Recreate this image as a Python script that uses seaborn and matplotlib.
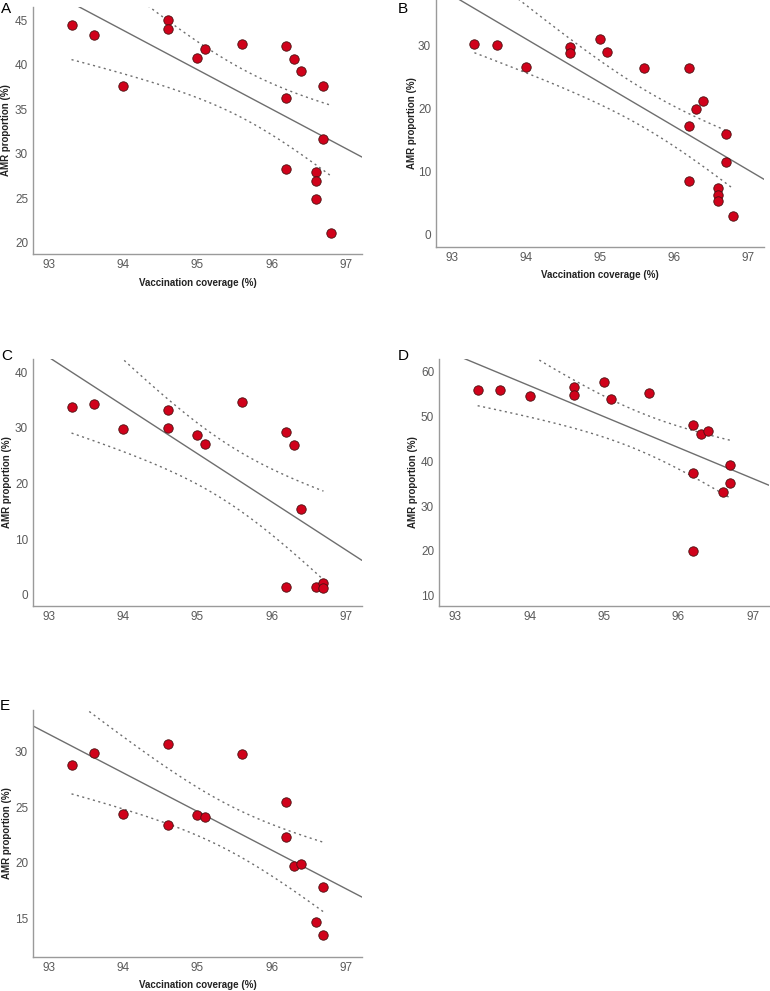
import numpy as np
import pandas as pd
import matplotlib
matplotlib.use("Agg")
import matplotlib.pyplot as plt
import seaborn as sns

# Vaccination coverage (%) and AMR proportion (%) per panel
coverage_a = [93.3, 93.6, 94.0, 94.6, 94.6, 95.0, 95.1, 95.6, 96.2, 96.3,
              96.4, 96.7, 96.2, 96.7, 96.2, 96.6, 96.6, 96.6, 96.8]
amr_a = [44.4, 43.3, 37.6, 45.0, 44.0, 40.7, 41.7, 42.3, 42.1, 40.6,
         39.3, 37.6, 36.2, 31.6, 28.3, 27.9, 26.9, 24.9, 21.1]

coverage_b = [93.3, 93.6, 94.0, 94.6, 94.6, 95.0, 95.1, 95.6, 96.2, 96.3,
              96.4, 96.7, 96.2, 96.7, 96.2, 96.6, 96.6, 96.6, 96.8]
amr_b = [30.3, 30.0, 26.6, 29.7, 28.8, 31.0, 28.9, 26.4, 26.5, 20.0,
         21.2, 16.0, 17.2, 11.6, 8.6, 7.5, 6.3, 5.4, 3.0]

coverage_c = [93.3, 93.6, 94.0, 94.6, 94.6, 95.0, 95.1, 95.6, 96.2, 96.3,
              96.4, 96.2, 96.6, 96.7, 96.7]
amr_c = [33.8, 34.2, 29.8, 33.2, 29.9, 28.7, 27.0, 34.6, 29.3, 26.9,
         15.4, 1.5, 1.5, 2.2, 1.3]

coverage_d = [93.3, 93.6, 94.0, 94.6, 94.6, 95.0, 95.1, 95.6, 96.2, 96.3,
              96.4, 96.7, 96.2, 96.7, 96.6, 96.2]
amr_d = [56.0, 56.0, 54.5, 56.6, 54.8, 57.8, 53.8, 55.3, 48.1, 46.1,
         46.7, 39.2, 37.3, 35.2, 33.1, 19.9]

coverage_e = [93.3, 93.6, 94.0, 94.6, 94.6, 95.0, 95.1, 95.6, 96.2, 96.2,
              96.3, 96.4, 96.7, 96.6, 96.7]
amr_e = [28.8, 29.9, 24.4, 30.7, 23.4, 24.3, 24.1, 29.8, 25.5, 22.3,
         19.7, 19.9, 17.8, 14.7, 13.5]

panel_labels = ["A", "B", "C", "D", "E"]
y_ticks = [[20, 25, 30, 35, 40, 45], [0, 10, 20, 30], [0, 10, 20, 30, 40],
           [10, 20, 30, 40, 50, 60], [15, 20, 25, 30]]
x_ticks = [93, 94, 95, 96, 97]

# t quantiles (0.975) for the 95% CI of the mean, keyed by residual df
T975 = {13: 2.160, 14: 2.145, 17: 2.110}

sns.set_style("white")
plt.rcParams["font.family"] = ["Liberation Sans", "DejaVu Sans"]

W, H = 770, 991
fig = plt.figure(figsize=(W / 100, H / 100), dpi=100)

# axes boxes in pixels: left, top, right, bottom, plus y-limits
boxes = [
    (33, 7, 362, 254, (18.73, 46.46)),
    (436, 0, 764, 247, (-1.9, 37.2)),
    (33, 359, 362, 606, (-1.98, 42.34)),
    (439, 359, 769, 606, (7.67, 62.84)),
    (33, 710, 362, 957, (11.53, 33.75)),
]
datasets = [(coverage_a, amr_a), (coverage_b, amr_b), (coverage_c, amr_c),
            (coverage_d, amr_d), (coverage_e, amr_e)]
# pixel positions of panel letter (x, top), y-label centre x, x-label centre y
letter_pos = [(1, 2), (398, 2), (1, 349), (398, 349), (0, 699)]
ylabel_x = [6, 412, 7, 413, 7]
xlabel_y = [283, 275, None, None, 985]

xlim = (92.78, 97.22)
grey = "#6e6e6e"
label_kw = dict(fontsize=7, fontweight="bold", color="#222222",
                ha="center", va="center")

for i, ((l, t, r, b, ylim), (xs, ys)) in enumerate(zip(boxes, datasets)):
    ax = fig.add_axes([l / W, 1 - b / H, (r - l) / W, (b - t) / H])
    df = pd.DataFrame({"coverage": xs, "amr": ys})

    # linear fit + 95% CI of the mean
    x = df["coverage"].to_numpy()
    y = df["amr"].to_numpy()
    n = len(x)
    slope, intercept = np.polyfit(x, y, 1)
    resid = y - (slope * x + intercept)
    s = np.sqrt(np.sum(resid ** 2) / (n - 2))
    sxx = np.sum((x - x.mean()) ** 2)
    tq = T975.get(n - 2, 2.12)

    xl = np.linspace(xlim[0], xlim[1], 50)
    ax.plot(xl, slope * xl + intercept, color=grey, lw=1.0, zorder=2)

    xc = np.linspace(x.min(), x.max(), 100)
    half = tq * s * np.sqrt(1 / n + (xc - x.mean()) ** 2 / sxx)
    fit = slope * xc + intercept
    ax.plot(xc, fit + half, color=grey, lw=1.0, ls=(0, (1.5, 2.5)), zorder=2)
    ax.plot(xc, fit - half, color=grey, lw=1.0, ls=(0, (1.5, 2.5)), zorder=2)

    sns.scatterplot(data=df, x="coverage", y="amr", ax=ax, s=46,
                    color="#d0021b", edgecolor="#4a1010", linewidth=0.6,
                    zorder=3, legend=False)

    ax.set_xlim(*xlim)
    ax.set_ylim(*ylim)
    ax.set_xticks(x_ticks)
    ax.set_yticks(y_ticks[i])
    ax.tick_params(length=0, labelsize=8.5, colors="#5a5a5a", pad=3.5)
    for side in ["top", "right"]:
        ax.spines[side].set_visible(False)
    for side in ["left", "bottom"]:
        ax.spines[side].set_color("#9a9a9a")
        ax.spines[side].set_linewidth(1.0)
    ax.set_xlabel("")
    ax.set_ylabel("")

    fig.text(ylabel_x[i] / W, 1 - ((t + b) / 2) / H, "AMR proportion (%)",
             rotation=90, **label_kw)
    if xlabel_y[i] is not None:
        fig.text(((l + r) / 2) / W, 1 - xlabel_y[i] / H,
                 "Vaccination coverage (%)", **label_kw)

    lx, ly = letter_pos[i]
    fig.text(lx / W, 1 - ly / H, panel_labels[i], fontsize=11,
             color="black", va="top", ha="left")

fig.savefig("out.png", dpi=100)
